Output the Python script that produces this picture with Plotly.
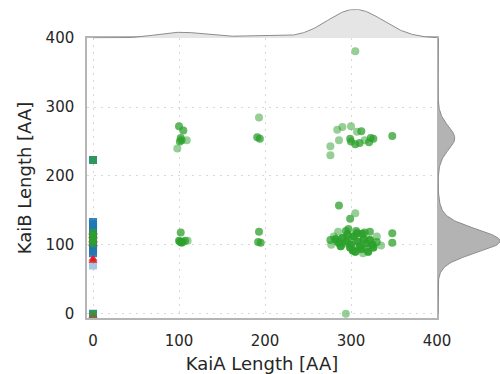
import numpy as np
import plotly.graph_objects as go

# ---------------- data ----------------
# green circles (darker); several homologs share identical lengths (overlapping points)
green_dark_x = [100, 105, 102, 101, 103, 100, 104, 107, 102, 102, 101, 103,
                191, 194, 193, 192, 195,
                312, 299, 305, 310, 323, 321, 326, 348, 300,
                286, 299, 294, 297, 276, 286, 307, 313, 322, 348, 348, 299, 305, 320, 326,
                290, 295, 300, 303, 308, 310, 315, 318, 322, 325, 302, 312, 296, 288, 282,
                330, 316, 306,
                290, 295, 300, 303, 308, 310, 315, 318, 322, 325, 302, 312, 296, 288, 282,
                286, 299, 305, 320, 326, 307, 313,
                0, 0, 0, 0, 0]
green_dark_y = [272, 266, 255, 250, 252, 106, 104, 106, 104, 118, 105, 103,
                256, 254, 119, 104, 103,
                265, 254, 246, 248, 255, 249, 254, 258, 250,
                157, 138, 120, 123, 107, 103, 117, 116, 119, 117, 103, 96, 90, 90, 96,
                110, 105, 100, 112, 105, 98, 108, 102, 107, 100, 92, 94, 115, 98, 108,
                104, 118, 120,
                110, 105, 100, 112, 105, 98, 108, 102, 107, 100, 92, 94, 115, 98, 108,
                103, 96, 90, 90, 96, 117, 116,
                118, 114, 110, 106, 102]
# green circles (lighter)
green_light_x = [109, 98, 110, 193,
                 284, 290, 300, 307, 286, 316, 276, 276,
                 305, 285, 277, 335, 314, 294, 280, 292, 318, 330, 300, 284, 305]
green_light_y = [252, 240, 106, 285,
                 267, 271, 272, 264, 252, 252, 243, 230,
                 146, 119, 100, 99, 88, 0, 112, 102, 94, 112, 108, 104, 381]
# KaiA absent (x = 0) homologs
blue_sq_x = [0] * 18
blue_sq_y = [223, 133, 130, 127, 124, 121, 118, 115, 112, 109, 106, 103, 100, 97, 94, 91, 88, 0]
lightblue_sq_x = [0]
lightblue_sq_y = [70]
red_tri_x = [0, 0, 0]
red_tri_y = [80, 77, -3]
red_x_x = [0, 0]
red_x_y = [110, 105]
green_sq_x = [0, 0]
green_sq_y = [223, 0]

x_ticks = [0, 100, 200, 300, 400]
y_ticks = [0, 100, 200, 300, 400]

# ---------------- KDE marginals ----------------
all_y = green_dark_y + green_light_y + blue_sq_y + lightblue_sq_y + red_tri_y + red_x_y
kx = np.array([x for x in green_dark_x + green_light_x if x > 0], float)
ky = np.array([y for y in all_y if y > 20], float)


def kde(data, grid, bw):
    n = len(data)
    z = (grid[:, None] - data[None, :]) / bw
    return np.exp(-0.5 * z ** 2).sum(axis=1) / (n * bw * np.sqrt(2 * np.pi))


gx = np.linspace(0, 400, 300)
dx = kde(kx, gx, 28.0)
gy = np.linspace(0, 400, 300)
dy = kde(ky, gy, 14.0)

fig = go.Figure()

GREEN = "#2ca02c"
BLUE = "#1f77b4"
RED = "#e41a1c"

fig.add_trace(go.Scatter(x=blue_sq_x, y=blue_sq_y, mode="markers",
                         marker=dict(symbol="square", size=8, color=BLUE, opacity=0.9, line=dict(width=0)),
                         showlegend=False))
fig.add_trace(go.Scatter(x=lightblue_sq_x, y=lightblue_sq_y, mode="markers",
                         marker=dict(symbol="square", size=8, color=BLUE, opacity=0.4, line=dict(width=0)),
                         showlegend=False))
fig.add_trace(go.Scatter(x=red_x_x, y=red_x_y, mode="markers",
                         marker=dict(symbol="x-thin", size=9, color=RED, opacity=0.5, line=dict(width=1.5, color=RED)),
                         showlegend=False))
fig.add_trace(go.Scatter(x=red_tri_x, y=red_tri_y, mode="markers",
                         marker=dict(symbol="triangle-up", size=8, color=RED, opacity=0.9, line=dict(width=0)),
                         showlegend=False))
fig.add_trace(go.Scatter(x=green_sq_x, y=green_sq_y, mode="markers",
                         marker=dict(symbol="square", size=7, color=GREEN, opacity=0.75, line=dict(width=0)),
                         showlegend=False))
fig.add_trace(go.Scatter(x=green_light_x, y=green_light_y, mode="markers",
                         marker=dict(symbol="circle", size=8, color=GREEN, opacity=0.5, line=dict(width=0)),
                         showlegend=False))
fig.add_trace(go.Scatter(x=green_dark_x, y=green_dark_y, mode="markers",
                         marker=dict(symbol="circle", size=8, color=GREEN, opacity=0.75, line=dict(width=0)),
                         showlegend=False))

# top marginal
fig.add_trace(go.Scatter(x=gx, y=dx, mode="lines", fill="tozeroy", fillcolor="#e5e5e5",
                         line=dict(color="#8c8c8c", width=1), xaxis="x2", yaxis="y2", showlegend=False))
# right marginal
fig.add_trace(go.Scatter(x=dy, y=gy, mode="lines", fill="tozerox", fillcolor="#b3b3b3",
                         line=dict(color="#8c8c8c", width=1), xaxis="x3", yaxis="y3", showlegend=False))

XD = [0.174, 0.874]
YD = [0.150, 0.898]
tickfont = dict(family="DejaVu Sans", size=15, color="#262626")
titlefont = dict(family="DejaVu Sans", size=18, color="#262626")

fig.update_layout(
    width=500, height=374,
    margin=dict(l=0, r=0, t=0, b=0),
    paper_bgcolor="white", plot_bgcolor="white",
    xaxis=dict(domain=XD, range=[-7, 400], tickvals=x_ticks, showgrid=True, griddash="2px,5px",
               gridcolor="#d8d8d8", gridwidth=1, zeroline=False, showline=True, linecolor="#b5b5b5",
               linewidth=1.5, mirror=True, ticks="", ticklabelstandoff=8, tickfont=tickfont,
               title=dict(text="KaiA Length [AA]", font=titlefont, standoff=12), automargin=False),
    yaxis=dict(domain=YD, range=[-6, 400], tickvals=y_ticks, showgrid=True, griddash="2px,5px",
               gridcolor="#d8d8d8", gridwidth=1, zeroline=False, showline=True, linecolor="#b5b5b5",
               linewidth=1.5, mirror=True, ticks="", ticklabelstandoff=8, tickfont=tickfont,
               title=dict(text="KaiB Length [AA]", font=titlefont, standoff=9), automargin=False),
    xaxis2=dict(domain=XD, range=[-7, 400], anchor="y2", visible=False),
    yaxis2=dict(domain=[0.898, 0.975], range=[0, float(dx.max()) * 1.0], anchor="x2", visible=False),
    xaxis3=dict(domain=[0.876, 1.0], range=[0, float(dy.max()) * 1.0], anchor="y3", visible=False),
    yaxis3=dict(domain=YD, range=[-6, 400], anchor="x3", visible=False),
)

fig.write_html("out.html")
